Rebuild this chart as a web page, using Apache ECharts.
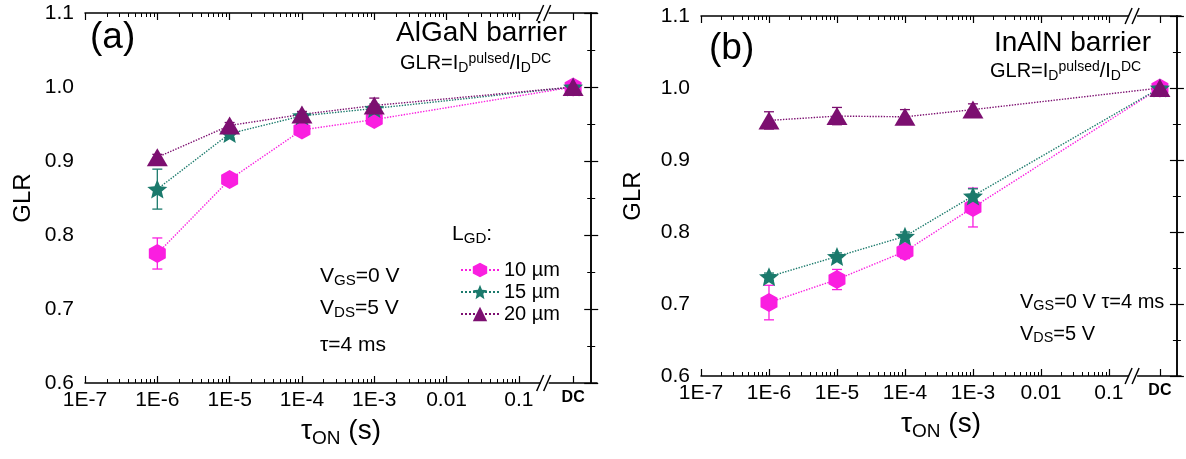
<!DOCTYPE html>
<html>
<head>
<meta charset="utf-8">
<script src="https://cdn.jsdelivr.net/npm/echarts@6/dist/echarts.min.js"></script>
<style>
  html, body { margin: 0; padding: 0; background: #fff; }
  #chart { width: 1186px; height: 459px; }
</style>
</head>
<body>
<div id="chart"></div>
<script>
// log10(tau_ON) of the measured points, DC is placed after the axis break
const tauLog = [-6, -5, -4, -3]
const DC_POS = -0.25
const BREAK_POS = -0.63

const xTickVals = [-7, -6, -5, -4, -3, -2, -1]
const xTickLabels = ['1E-7', '1E-6', '1E-5', '1E-4', '1E-3', '0.01', '0.1']
const yTicks = [0.6, 0.7, 0.8, 0.9, 1.0, 1.1]

const names = ['10 µm', '15 µm', '20 µm']

// (a) AlGaN barrier: values at 1E-6, 1E-5, 1E-4, 1E-3, DC
const algan10 = [0.775, 0.875, 0.942, 0.956, 1.0]
const algan10Err = [0.021, 0.005, 0.005, 0.005, 0.003]
const algan15 = [0.862, 0.937, 0.961, 0.971, 1.0]
const algan15Err = [0.027, 0.006, 0.004, 0.006, 0.003]
const algan20 = [0.905, 0.948, 0.963, 0.975, 1.0]
const algan20Err = [0.004, 0.004, 0.004, 0.010, 0.003]

// (b) InAlN barrier
const inaln10 = [0.702, 0.734, 0.773, 0.834, 1.0]
const inaln10Err = [0.024, 0.014, 0.010, 0.027, 0.005]
const inaln15 = [0.738, 0.766, 0.794, 0.850, 1.0]
const inaln15Err = [0.005, 0.005, 0.006, 0.010, 0.003]
const inaln20 = [0.955, 0.961, 0.960, 0.970, 1.0]
const inaln20Err = [0.012, 0.012, 0.010, 0.008, 0.005]

const MAGENTA = '#fa1ee0'
const TEAL = '#1b7a6c'
const PURPLE = '#7c0f70'
const FONT = '"Liberation Sans", Arial, sans-serif'

const HEX = 'path://M0,-1L0.866,-0.5L0.866,0.5L0,1L-0.866,0.5L-0.866,-0.5Z'
function starPath() {
  let d = ''
  for (let i = 0; i < 10; i++) {
    const r = i % 2 ? 0.45 : 1
    const a = (-90 + 36 * i) * Math.PI / 180
    d += (i ? 'L' : 'M') + (r * Math.cos(a)).toFixed(3) + ',' + (r * Math.sin(a)).toFixed(3)
  }
  return 'path://' + d + 'Z'
}
const STAR = starPath()

const colors = [MAGENTA, TEAL, PURPLE]
const symbols = [HEX, STAR, 'triangle']
const sizes = [[17, 19], [20, 19], [21, 18]]

const minorVals = []
for (let d = -7; d < -1; d++) {
  for (let k = 2; k <= 9; k++) minorVals.push(d + Math.log10(k))
}

function xLabel(v) {
  if (Math.abs(v - DC_POS) < 1e-6) return '{dc|DC}'
  const i = xTickVals.findIndex((t) => Math.abs(t - v) < 1e-6)
  return i >= 0 ? xTickLabels[i] : ''
}

function xAxes(grid, max) {
  const base = { type: 'value', gridIndex: grid, min: -7, max, splitLine: { show: false } }
  const line = { show: true, lineStyle: { color: '#000', width: 1.5 } }
  return [
    { ...base, position: 'bottom', axisLine: line,
      axisTick: { inside: true, length: 7, customValues: [...xTickVals, DC_POS], lineStyle: { color: '#000', width: 1.2 } },
      axisLabel: { customValues: [...xTickVals, DC_POS], formatter: xLabel, margin: 7,
        color: '#000', fontSize: 21, fontFamily: FONT,
        rich: { dc: { fontSize: 16, fontWeight: 'bold', fontFamily: FONT, color: '#000' } } },
      name: '{t|τ}{s|ON}{t| (s)}', nameLocation: 'middle', nameGap: 32,
      nameTextStyle: { rich: {
        t: { fontSize: 28, fontFamily: FONT, color: '#000' },
        s: { fontSize: 19, fontFamily: FONT, color: '#000', verticalAlign: 'bottom', padding: [14, 0, 0, 0] },
      } } },
    { ...base, position: 'bottom', axisLine: { show: false },
      axisTick: { inside: true, length: 4, customValues: minorVals, lineStyle: { color: '#000', width: 1 } },
      axisLabel: { show: false } },
    { ...base, position: 'top', axisLine: line,
      axisTick: { inside: true, length: 7, customValues: [...xTickVals, DC_POS], lineStyle: { color: '#000', width: 1.2 } },
      axisLabel: { show: false } },
    { ...base, position: 'top', axisLine: { show: false },
      axisTick: { inside: true, length: 4, customValues: minorVals, lineStyle: { color: '#000', width: 1 } },
      axisLabel: { show: false } },
  ]
}

function yAxes(grid, nameGap) {
  const base = { type: 'value', gridIndex: grid, min: yTicks[0], max: yTicks[yTicks.length - 1], interval: 0.1,
    splitLine: { show: false },
    axisLine: { show: true, lineStyle: { color: '#000', width: 1.5 } },
    axisTick: { inside: true, length: 7, lineStyle: { color: '#000', width: 1.2 } },
    minorTick: { show: true, splitNumber: 2, length: 4, lineStyle: { color: '#000', width: 1 } } }
  return [
    { ...base, position: 'left',
      axisLabel: { formatter: (v) => v.toFixed(1), color: '#000', fontSize: 21, fontFamily: FONT, margin: 11 },
      name: 'GLR', nameLocation: 'middle', nameGap, nameRotate: 90,
      nameTextStyle: { fontSize: 24, fontFamily: FONT, color: '#000' } },
    { ...base, position: 'right', axisLabel: { show: false } },
  ]
}

function errSeries(name, color, vals, errs, xi, yi) {
  return {
    type: 'custom', name, xAxisIndex: xi, yAxisIndex: yi, z: 2, silent: true,
    data: vals.map((v, i) => [i < tauLog.length ? tauLog[i] : DC_POS, v, errs[i]]),
    renderItem(params, api) {
      const x = api.value(0), y = api.value(1), e = api.value(2)
      const top = api.coord([x, y + e]), bot = api.coord([x, y - e])
      const st = { stroke: color, lineWidth: 1.3 }
      return { type: 'group', children: [
        { type: 'line', shape: { x1: top[0], y1: top[1], x2: bot[0], y2: bot[1] }, style: st },
        { type: 'line', shape: { x1: top[0] - 5, y1: top[1], x2: top[0] + 5, y2: top[1] }, style: st },
        { type: 'line', shape: { x1: bot[0] - 5, y1: bot[1], x2: bot[0] + 5, y2: bot[1] }, style: st },
      ] }
    },
  }
}

function lineSeries(k, vals, xi, yi) {
  return {
    type: 'line', name: names[k], xAxisIndex: xi, yAxisIndex: yi, z: 3,
    data: vals.map((v, i) => [i < tauLog.length ? tauLog[i] : DC_POS, v]),
    symbol: symbols[k], symbolSize: sizes[k], showAllSymbol: true,
    itemStyle: { color: colors[k] },
    lineStyle: { color: colors[k], type: 'dotted', width: 1.4 },
  }
}

function breakSeries(xi, yi) {
  return {
    type: 'custom', xAxisIndex: xi, yAxisIndex: yi, z: 5, silent: true, clip: false,
    data: [[BREAK_POS, yTicks[0]], [BREAK_POS, yTicks[yTicks.length - 1]]],
    renderItem(params, api) {
      const p = api.coord([api.value(0), api.value(1)])
      const st = { stroke: '#000', lineWidth: 1.5 }
      return { type: 'group', children: [
        { type: 'rect', shape: { x: p[0] - 5, y: p[1] - 2, width: 8, height: 4 }, style: { fill: '#fff' } },
        { type: 'line', shape: { x1: p[0] - 9, y1: p[1] + 8, x2: p[0] - 2, y2: p[1] - 8 }, style: st },
        { type: 'line', shape: { x1: p[0] - 2, y1: p[1] + 8, x2: p[0] + 5, y2: p[1] - 8 }, style: st },
      ] }
    },
  }
}

function txt(left, top, text, rich, extra) {
  return { type: 'text', left, top, style: { text, rich, fill: '#000', font: '20px ' + FONT, ...extra } }
}
const R = (size, sub) => ({
  m: { fontSize: size, fontFamily: FONT, color: '#000' },
  sub: { fontSize: sub || size * 0.72, fontFamily: FONT, color: '#000', verticalAlign: 'bottom', padding: [size * 0.45, 0, 0, 0] },
  sup: { fontSize: sub || size * 0.72, fontFamily: FONT, color: '#000', verticalAlign: 'top', padding: [0, 0, size * 0.45, 0] },
})
const formula = '{m|GLR=I}{sub|D}{sup|pulsed}{m|/I}{sub|D}{sup|DC}'

const chart = echarts.init(document.getElementById('chart'))
chart.setOption({
  animation: false,
  grid: [
    { left: 85, right: 589, top: 13, bottom: 76 },
    { left: 701, right: 5, top: 16, bottom: 83 },
  ],
  xAxis: [...xAxes(0, 0.08), ...xAxes(1, 0.06)],
  yAxis: [...yAxes(0, 50), ...yAxes(1, 56)],
  legend: {
    data: names, left: 455, top: 255, orient: 'vertical', itemWidth: 38, itemHeight: 18, itemGap: 2,
    textStyle: { fontSize: 20, fontFamily: FONT, color: '#000' },
  },
  series: [
    errSeries('e10a', MAGENTA, algan10, algan10Err, 0, 0),
    errSeries('e15a', TEAL, algan15, algan15Err, 0, 0),
    errSeries('e20a', PURPLE, algan20, algan20Err, 0, 0),
    lineSeries(0, algan10, 0, 0),
    lineSeries(1, algan15, 0, 0),
    lineSeries(2, algan20, 0, 0),
    breakSeries(0, 0),
    errSeries('e10b', MAGENTA, inaln10, inaln10Err, 4, 2),
    errSeries('e15b', TEAL, inaln15, inaln15Err, 4, 2),
    errSeries('e20b', PURPLE, inaln20, inaln20Err, 4, 2),
    lineSeries(0, inaln10, 4, 2),
    lineSeries(1, inaln15, 4, 2),
    lineSeries(2, inaln20, 4, 2),
    breakSeries(4, 2),
  ],
  graphic: [
    txt(90, 19, '(a)', null, { font: '37px ' + FONT }),
    txt(396, 19, 'AlGaN barrier', null, { font: '28px ' + FONT }),
    txt(400, 52, formula, R(20, 14)),
    txt(320, 266, '{m|V}{sub|GS}{m|=0 V}', R(21)),
    txt(320, 298, '{m|V}{sub|DS}{m|=5 V}', R(21)),
    txt(320, 335, '{m|τ=4 ms}', R(21)),
    txt(452, 224, '{m|L}{sub|GD}{m|:}', R(21)),
    txt(709, 30, '(b)', null, { font: '37px ' + FONT }),
    txt(994, 29, 'InAlN barrier', null, { font: '28px ' + FONT }),
    txt(990, 60, formula, R(20, 14)),
    txt(1020, 292, '{m|V}{sub|GS}{m|=0 V τ=4 ms}', R(20)),
    txt(1020, 324, '{m|V}{sub|DS}{m|=5 V}', R(20)),
  ],
})
</script>
</body>
</html>
